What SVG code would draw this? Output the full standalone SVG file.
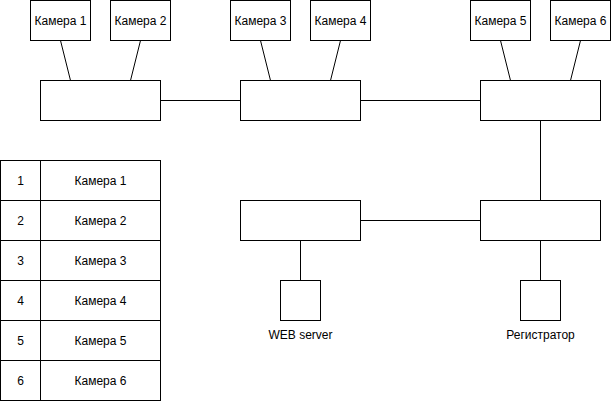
<svg xmlns="http://www.w3.org/2000/svg" width="611" height="401" viewBox="0 0 611 401">
  <style>
    .box { fill: #ffffff; stroke: #000000; stroke-width: 1; }
    .link { fill: none; stroke: #000000; stroke-width: 1; }
    .lbl { font-family: "Liberation Sans", Arial, Helvetica, sans-serif; font-size: 12px; fill: #000000; text-anchor: middle; dominant-baseline: central; }
  </style>
  <rect width="611" height="401" fill="#ffffff"/>

  <!-- connectors -->
  <g id="connectors">
    <line class="link" x1="60.5" y1="40.5" x2="70.5" y2="80.5"/>
    <line class="link" x1="140.5" y1="40.5" x2="130.5" y2="80.5"/>
    <line class="link" x1="260.5" y1="40.5" x2="270.5" y2="80.5"/>
    <line class="link" x1="340.5" y1="40.5" x2="330.5" y2="80.5"/>
    <line class="link" x1="500.5" y1="40.5" x2="510.5" y2="80.5"/>
    <line class="link" x1="580.5" y1="40.5" x2="570.5" y2="80.5"/>
    <line class="link" x1="160.5" y1="100.5" x2="240.5" y2="100.5"/>
    <line class="link" x1="360.5" y1="100.5" x2="480.5" y2="100.5"/>
    <line class="link" x1="540.5" y1="120.5" x2="540.5" y2="200.5"/>
    <line class="link" x1="360.5" y1="220.5" x2="480.5" y2="220.5"/>
    <line class="link" x1="300.5" y1="240.5" x2="300.5" y2="280.5"/>
    <line class="link" x1="540.5" y1="240.5" x2="540.5" y2="280.5"/>
  </g>

  <!-- cameras -->
  <g id="cam1"><rect class="box" x="30.5" y="0.5" width="60" height="40"/><text class="lbl" x="60.5" y="20.5">Камера 1</text></g>
  <g id="cam2"><rect class="box" x="110.5" y="0.5" width="60" height="40"/><text class="lbl" x="140.5" y="20.5">Камера 2</text></g>
  <g id="cam3"><rect class="box" x="230.5" y="0.5" width="60" height="40"/><text class="lbl" x="260.5" y="20.5">Камера 3</text></g>
  <g id="cam4"><rect class="box" x="310.5" y="0.5" width="60" height="40"/><text class="lbl" x="340.5" y="20.5">Камера 4</text></g>
  <g id="cam5"><rect class="box" x="470.5" y="0.5" width="60" height="40"/><text class="lbl" x="500.5" y="20.5">Камера 5</text></g>
  <g id="cam6"><rect class="box" x="550.5" y="0.5" width="60" height="40"/><text class="lbl" x="580.5" y="20.5">Камера 6</text></g>

  <!-- switches -->
  <g id="switch1"><rect class="box" x="40.5" y="80.5" width="120" height="40"/></g>
  <g id="switch2"><rect class="box" x="240.5" y="80.5" width="120" height="40"/></g>
  <g id="switch3"><rect class="box" x="480.5" y="80.5" width="120" height="40"/></g>
  <g id="switch4"><rect class="box" x="480.5" y="200.5" width="120" height="40"/></g>
  <g id="switch5"><rect class="box" x="240.5" y="200.5" width="120" height="40"/></g>

  <!-- end devices -->
  <g id="webserver"><rect class="box" x="280.5" y="280.5" width="40" height="40"/><text class="lbl" x="300.5" y="334.5">WEB server</text></g>
  <g id="recorder"><rect class="box" x="520.5" y="280.5" width="40" height="40"/><text class="lbl" x="540.5" y="334.5">Регистратор</text></g>

  <!-- camera index table -->
  <g id="table">
    <g id="row1"><rect class="box" x="0.5" y="160.5" width="40" height="40"/><rect class="box" x="40.5" y="160.5" width="120" height="40"/><text class="lbl" x="20.5" y="180.5">1</text><text class="lbl" x="100.5" y="180.5">Камера 1</text></g>
    <g id="row2"><rect class="box" x="0.5" y="200.5" width="40" height="40"/><rect class="box" x="40.5" y="200.5" width="120" height="40"/><text class="lbl" x="20.5" y="220.5">2</text><text class="lbl" x="100.5" y="220.5">Камера 2</text></g>
    <g id="row3"><rect class="box" x="0.5" y="240.5" width="40" height="40"/><rect class="box" x="40.5" y="240.5" width="120" height="40"/><text class="lbl" x="20.5" y="260.5">3</text><text class="lbl" x="100.5" y="260.5">Камера 3</text></g>
    <g id="row4"><rect class="box" x="0.5" y="280.5" width="40" height="40"/><rect class="box" x="40.5" y="280.5" width="120" height="40"/><text class="lbl" x="20.5" y="300.5">4</text><text class="lbl" x="100.5" y="300.5">Камера 4</text></g>
    <g id="row5"><rect class="box" x="0.5" y="320.5" width="40" height="40"/><rect class="box" x="40.5" y="320.5" width="120" height="40"/><text class="lbl" x="20.5" y="340.5">5</text><text class="lbl" x="100.5" y="340.5">Камера 5</text></g>
    <g id="row6"><rect class="box" x="0.5" y="360.5" width="40" height="40"/><rect class="box" x="40.5" y="360.5" width="120" height="40"/><text class="lbl" x="20.5" y="380.5">6</text><text class="lbl" x="100.5" y="380.5">Камера 6</text></g>
  </g>
</svg>
